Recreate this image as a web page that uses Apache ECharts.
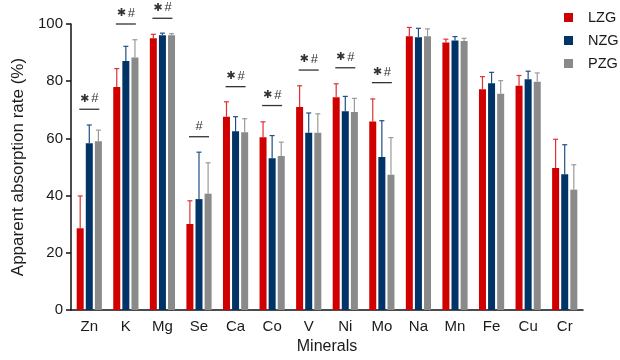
<!DOCTYPE html>
<html>
<head>
<meta charset="utf-8">
<script src="https://cdn.jsdelivr.net/npm/echarts@6/dist/echarts.min.js"></script>
<style>
  html, body { margin: 0; padding: 0; background: #fff; }
  #chart { width: 620px; height: 360px; }
</style>
</head>
<body>
<div id="chart"></div>
<script>
const minerals = ['Zn', 'K', 'Mg', 'Se', 'Ca', 'Co', 'V', 'Ni', 'Mo', 'Na', 'Mn', 'Fe', 'Cu', 'Cr'];
const groups = ['LZG', 'NZG', 'PZG'];

// mean apparent absorption rate (%)
const lzgMean = [28.6, 78.0, 95.0, 30.1, 67.6, 60.4, 71.0, 74.4, 65.9, 95.7, 93.5, 77.2, 78.4, 49.7];
const nzgMean = [58.3, 87.1, 96.1, 38.8, 62.5, 53.1, 62.0, 69.5, 53.5, 95.4, 94.2, 79.3, 80.7, 47.5];
const pzgMean = [59.0, 88.3, 96.1, 40.7, 62.2, 53.9, 62.0, 69.2, 47.3, 95.7, 94.1, 75.6, 79.8, 42.1];

// error (upper only)
const lzgErr = [11.3, 6.4, 1.4, 8.1, 5.2, 5.4, 7.4, 4.7, 7.9, 3.1, 1.2, 4.4, 3.6, 10.0];
const nzgErr = [6.4, 5.1, 0.7, 16.4, 5.1, 7.9, 6.9, 5.2, 12.7, 3.1, 1.4, 3.8, 2.8, 10.3];
const pzgErr = [3.9, 6.2, 0.5, 10.8, 4.7, 4.8, 6.6, 4.8, 13.0, 2.6, 0.9, 4.6, 3.1, 8.7];

// significance marks
const sigCats = ['Zn', 'K', 'Mg', 'Se', 'Ca', 'Co', 'V', 'Ni', 'Mo'];
const sigLevels = [70.2, 100, 102, 60.6, 78.1, 71.5, 83.9, 84.7, 79.5];
const sigLabels = ['*#', '*#', '*#', '#', '*#', '*#', '*#', '*#', '*#'];

const yTicks = [0, 20, 40, 60, 80, 100];

const colors = ['#d10000', '#003366', '#8a8a8a'];
const errColors = ['#e03030', '#1f4f85', '#9a9a9a'];
const FONT = 'Liberation Sans, Arial, sans-serif';
const BAR_W = 7;
const BAR_STEP = 9.1;

const means = [lzgMean, nzgMean, pzgMean];
const errs = [lzgErr, nzgErr, pzgErr];

const chart = echarts.init(document.getElementById('chart'), null, { renderer: 'canvas' });

function errRenderer(i) {
    return function (params, api) {
        const c = api.value(0);
        const base = api.coord([c, api.value(1)]);
        const top = api.coord([c, api.value(1) + api.value(2)]);
        const x = base[0] + (i - 1) * BAR_STEP;
        const st = { stroke: errColors[i], lineWidth: 1.2 };
        return {
            type: 'group',
            children: [
                { type: 'line', shape: { x1: x, y1: base[1], x2: x, y2: top[1] }, style: st },
                { type: 'line', shape: { x1: x - 2.5, y1: top[1], x2: x + 2.5, y2: top[1] }, style: st }
            ]
        };
    };
}

function sigRenderer(params, api) {
    const p = api.coord([api.value(0), api.value(1)]);
    const label = sigLabels[params.dataIndex];
    const txt = label.replace('*', '{s|✱}').replace('#', '{h|#}');
    return {
        type: 'group',
        children: [
            { type: 'line', shape: { x1: p[0] - 10, y1: p[1], x2: p[0] + 10, y2: p[1] },
              style: { stroke: '#333', lineWidth: 1.3 } },
            { type: 'text', x: p[0], y: p[1] - 4,
              style: {
                  text: txt, align: 'center', verticalAlign: 'bottom', fill: '#333',
                  rich: {
                      s: { fontSize: 11, fontFamily: 'DejaVu Sans', fill: '#333', padding: [0, 2, 0, 0] },
                      h: { fontSize: 13, fontFamily: FONT, fill: '#333' }
                  }
              } }
        ]
    };
}

const series = [];
groups.forEach(function (g, i) {
    series.push({
        name: g,
        type: 'bar',
        data: means[i],
        barWidth: BAR_W,
        barGap: '30%',
        itemStyle: { color: colors[i] }
    });
});
groups.forEach(function (g, i) {
    series.push({
        name: g + ' err',
        type: 'custom',
        renderItem: errRenderer(i),
        data: minerals.map(function (m, k) { return [k, means[i][k], errs[i][k]]; }),
        z: 3
    });
});
series.push({
    name: 'sig',
    type: 'custom',
    renderItem: sigRenderer,
    data: sigCats.map(function (c, k) { return [minerals.indexOf(c), sigLevels[k]]; }),
    z: 4
});

const option = {
    animation: false,
    textStyle: { fontFamily: FONT },
    legend: {
        data: groups,
        orient: 'vertical',
        left: 559,
        top: 5,
        icon: 'rect',
        itemWidth: 9,
        itemHeight: 9,
        itemGap: 8,
        textStyle: { fontSize: 14.5, color: '#1a1a1a', fontFamily: FONT, padding: [0, 0, 0, 10] }
    },
    grid: { left: 71, right: 37, top: 24, bottom: 48 },
    xAxis: {
        type: 'category',
        data: minerals,
        name: 'Minerals',
        nameLocation: 'middle',
        nameGap: 25,
        nameTextStyle: { fontSize: 16, color: '#1a1a1a', fontFamily: FONT },
        axisLine: { lineStyle: { color: '#111', width: 1.5 } },
        axisTick: { alignWithLabel: true, length: 5, lineStyle: { color: '#111', width: 1.5 } },
        axisLabel: { fontSize: 15, color: '#1a1a1a', margin: 9, fontFamily: FONT }
    },
    yAxis: {
        type: 'value',
        min: yTicks[0],
        max: yTicks[yTicks.length - 1],
        interval: yTicks[1] - yTicks[0],
        name: 'Apparent absorption rate (%)',
        nameLocation: 'middle',
        nameGap: 37,
        nameTextStyle: { fontSize: 17, color: '#1a1a1a', fontFamily: FONT },
        axisLine: { show: true, lineStyle: { color: '#111', width: 1.5 } },
        axisTick: { show: true, length: 5, lineStyle: { color: '#111', width: 1.5 } },
        axisLabel: { fontSize: 15, color: '#1a1a1a', margin: 8, fontFamily: FONT },
        splitLine: { show: false }
    },
    series: series
};

chart.setOption(option);
</script>
</body>
</html>
